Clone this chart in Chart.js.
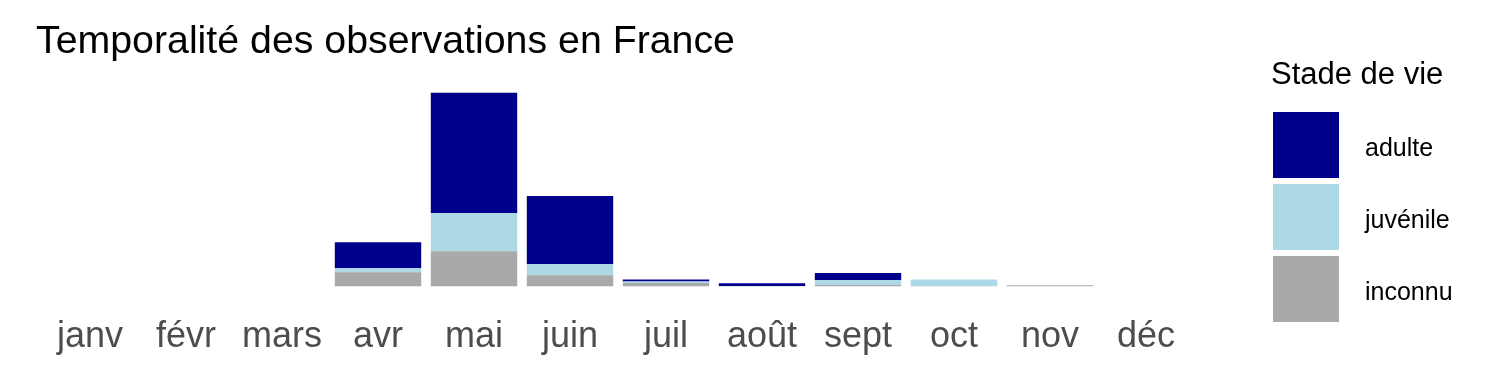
<!DOCTYPE html>
<html>
<head>
<meta charset="utf-8">
<script src="https://cdn.jsdelivr.net/npm/chart.js@4"></script>
<style>
  html, body { margin: 0; padding: 0; background: #ffffff; }
  #wrap { width: 1500px; height: 375px; position: relative; }
</style>
</head>
<body>
<div id="wrap"><canvas id="c" width="1500" height="375"></canvas></div>
<script>
const months = ["janv", "févr", "mars", "avr", "mai", "juin", "juil", "août", "sept", "oct", "nov", "déc"];
const inconnu  = [0, 0, 0, 14, 35, 11, 3.4, 0.3, 1.3, 0, 1, 0];
const juvenile = [0, 0, 0, 4, 38, 11, 1.3, 0, 5, 6.7, 0, 0];
const adulte   = [0, 0, 0, 26, 120, 68, 2, 2.7, 7, 0, 0, 0];
const seriesNames = ["inconnu", "juvénile", "adulte"];
const seriesColors = ["#A9A9A9", "#ADD8E6", "#00008B"];
const chartTitle = "Temporalité des observations en France";
const legendTitle = "Stade de vie";

const FONT = "'Liberation Sans', Arial, sans-serif";

const totals = months.map((m, i) => inconnu[i] + juvenile[i] + adulte[i]);
const maxTotal = Math.max(...totals);

const overlay = {
  id: 'overlay',
  afterDraw(chart) {
    const ctx = chart.ctx;
    ctx.save();
    // title
    ctx.fillStyle = '#000000';
    ctx.font = "39.3px " + FONT;
    ctx.textBaseline = 'alphabetic';
    ctx.textAlign = 'left';
    ctx.fillText(chartTitle, 36, 53);
    // legend title
    ctx.font = "31px " + FONT;
    ctx.fillText(legendTitle, 1271, 84);
    // legend entries (reverse of stack order)
    const ds = chart.data.datasets;
    const order = [2, 1, 0];
    order.forEach((di, k) => {
      const y0 = 112 + k * 72;
      ctx.fillStyle = ds[di].backgroundColor;
      ctx.fillRect(1273, y0, 66, 66);
      ctx.fillStyle = '#000000';
      ctx.font = "25px " + FONT;
      ctx.textBaseline = 'middle';
      ctx.fillText(ds[di].label, 1365, y0 + 37);
    });
    ctx.restore();
  }
};

new Chart(document.getElementById('c'), {
  type: 'bar',
  data: {
    labels: months,
    datasets: [
      { label: seriesNames[0], data: inconnu, backgroundColor: seriesColors[0] },
      { label: seriesNames[1], data: juvenile, backgroundColor: seriesColors[1] },
      { label: seriesNames[2], data: adulte, backgroundColor: seriesColors[2] }
    ]
  },
  options: {
    responsive: false,
    animation: false,
    devicePixelRatio: 1,
    layout: { padding: { left: 42, right: 306, top: 83, bottom: 0 } },
    datasets: { bar: { barPercentage: 0.9, categoryPercentage: 1.0, borderWidth: 0 } },
    plugins: {
      legend: { display: false },
      title: { display: false },
      tooltip: { enabled: false }
    },
    scales: {
      x: {
        stacked: true,
        grid: { display: false, drawTicks: false },
        border: { display: false },
        ticks: {
          color: '#4D4D4D',
          font: { family: FONT, size: 36 },
          padding: 19,
          maxRotation: 0,
          autoSkip: false
        },
        afterFit(scale) { scale.height = 79; }
      },
      y: {
        stacked: true,
        display: false,
        min: -maxTotal * 0.05,
        max: maxTotal * 1.05
      }
    }
  },
  plugins: [overlay]
});
</script>
</body>
</html>
